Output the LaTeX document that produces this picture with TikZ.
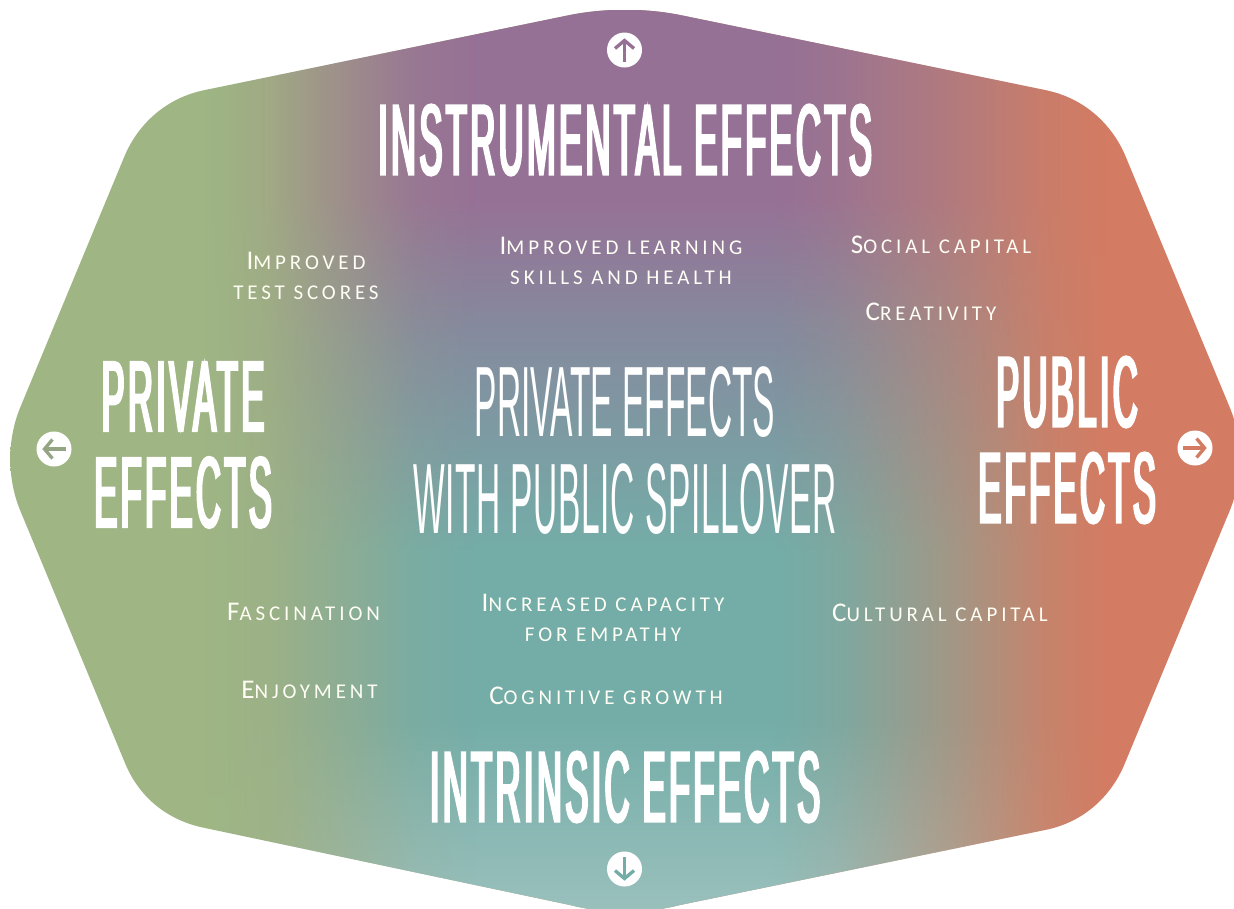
\documentclass[tikz,border=0pt]{standalone}
\usepackage{fontspec}
\usepackage{xcolor}
\usetikzlibrary{arrows.meta,fadings}
\newfontfamily\headfont[FakeStretch=0.345,FakeBold=2.5,LetterSpace=3.4]{Liberation Sans}
\newfontfamily\thinfont[FakeStretch=0.335]{Liberation Sans}
\newfontfamily\capfont[LetterSpace=18.5]{Carlito}
\newcommand{\smc}[2]{{\fontsize{27}{30}\selectfont #1}{\fontsize{21}{30}\selectfont #2}}
\definecolor{grn}{HTML}{9FB584}
\definecolor{org}{HTML}{D37C63}
\definecolor{ppl}{HTML}{967196}
\definecolor{slt}{HTML}{848B9E}
\definecolor{tel}{HTML}{74ADA8}
\definecolor{pal}{HTML}{9AC0BC}
\pgfdeclarehorizontalshading{baseshade}{100bp}{color(0bp)=(grn); color(33.5bp)=(grn); color(45bp)=(grn!70!org); color(55bp)=(org!70!grn); color(69bp)=(org); color(100bp)=(org)}
\pgfdeclareverticalshading{midshade}{100bp}{color(0bp)=(pal); color(25bp)=(pal); color(35.5bp)=(tel); color(45bp)=(tel); color(57bp)=(slt); color(64.5bp)=(ppl); color(100bp)=(ppl)}
\pgfdeclarehorizontalshading{midmask}{100bp}{color(0bp)=(black); color(33bp)=(black); color(35.5bp)=(black!88); color(38.5bp)=(black!50); color(41.5bp)=(black!12); color(44bp)=(white); color(56bp)=(white); color(58.5bp)=(black!12); color(63bp)=(black!50); color(67bp)=(black!88); color(69.5bp)=(black); color(100bp)=(black)}
\pgfdeclarefading{midfade}{\pgfuseshading{midmask}}
\newcommand{\outline}{(570,15) .. controls (605,8) and (645,8) .. (680,15) -- (1045,90) .. controls (1085,98) and (1112,125) .. (1125,155) -- (1230,408) .. controls (1243,440) and (1243,478) .. (1230,510) -- (1125,763) .. controls (1112,795) and (1085,822) .. (1045,830) -- (680,905) .. controls (645,914) and (605,914) .. (570,905) -- (205,828) .. controls (165,820) and (138,795) .. (125,763) -- (20,510) .. controls (7,478) and (7,440) .. (20,408) -- (125,155) .. controls (138,125) and (165,98) .. (205,90) -- cycle}

\begin{document}
\begin{tikzpicture}[x=1pt, y=-1pt, >=Stealth]
\tikzset{
  heading/.style = {text=white, font=\headfont\fontsize{100}{96}\selectfont, align=center, inner sep=0pt},
  spill/.style = {text=white, font=\thinfont\fontsize{100}{97}\selectfont, align=center, inner sep=0pt},
  effect/.style = {text=white!96!yellow, font=\capfont\fontsize{21}{30}\selectfont, align=center, inner sep=0pt},
  dot/.style = {circle, fill=white, minimum size=35pt, inner sep=0pt},
  pointer/.style = {line width=3.3pt, -{Straight Barb[length=8pt,width=19pt,line width=3.3pt]}}
}
\useasboundingbox (0,0) rectangle (1234,908);
\begin{scope}
\clip \outline;
\shade [shading=baseshade] (10,10) rectangle (1240,912);
\shade [shading=midshade, path fading=midfade] (10,10) rectangle (1240,912);
\end{scope}

\node [heading] (instrumental) at (625,140) {INSTRUMENTAL EFFECTS};
\node [heading] (intrinsic) at (625,787) {INTRINSIC EFFECTS};
\node [heading] (private) at (183,445) {PRIVATE\\EFFECTS};
\node [heading] (public) at (1067,440) {PUBLIC\\EFFECTS};
\node [spill] (spillover) at (625,451) {PRIVATE EFFECTS\\{\addfontfeature{LetterSpace=0.7}WITH PUBLIC SPILLOVER}};

\node [effect] (scores) at (306,276) {\smc{I}{MPROVED}\\\smc{}{TEST SCORES}};
\node [effect] (learning) at (621,261) {\smc{I}{MPROVED LEARNING}\\\smc{}{SKILLS AND HEALTH}};
\node [effect] (social) at (941,245) {\smc{S}{OCIAL CAPITAL}};
\node [effect] (creativity) at (931,312) {\smc{C}{REATIVITY}};
\node [effect] (fascination) at (303.5,612) {\smc{F}{ASCINATION}};
\node [effect] (enjoyment) at (309.5,690) {\smc{E}{NJOYMENT}};
\node [effect] (empathy) at (603,618) {\smc{I}{NCREASED CAPACITY}\\\smc{}{FOR EMPATHY}};
\node [effect] (growth) at (606,696) {\smc{C}{OGNITIVE GROWTH}};
\node [effect] (cultural) at (940,613) {\smc{C}{ULTURAL CAPITAL}};

\node [dot] (up) at (624.5,50) {};
\node [dot] (left) at (54,449) {};
\node [dot] (right) at (1195,448) {};
\node [dot] (down) at (624.5,869) {};
\draw [pointer, ppl] ([yshift=6pt]up.south) -- ([yshift=-6pt]up.north);
\draw [pointer, grn!70!gray] ([xshift=-6pt]left.east) -- ([xshift=6pt]left.west);
\draw [pointer, org] ([xshift=6pt]right.west) -- ([xshift=-6pt]right.east);
\draw [pointer, tel] ([yshift=-6pt]down.north) -- ([yshift=6pt]down.south);
\end{tikzpicture}
\end{document}
